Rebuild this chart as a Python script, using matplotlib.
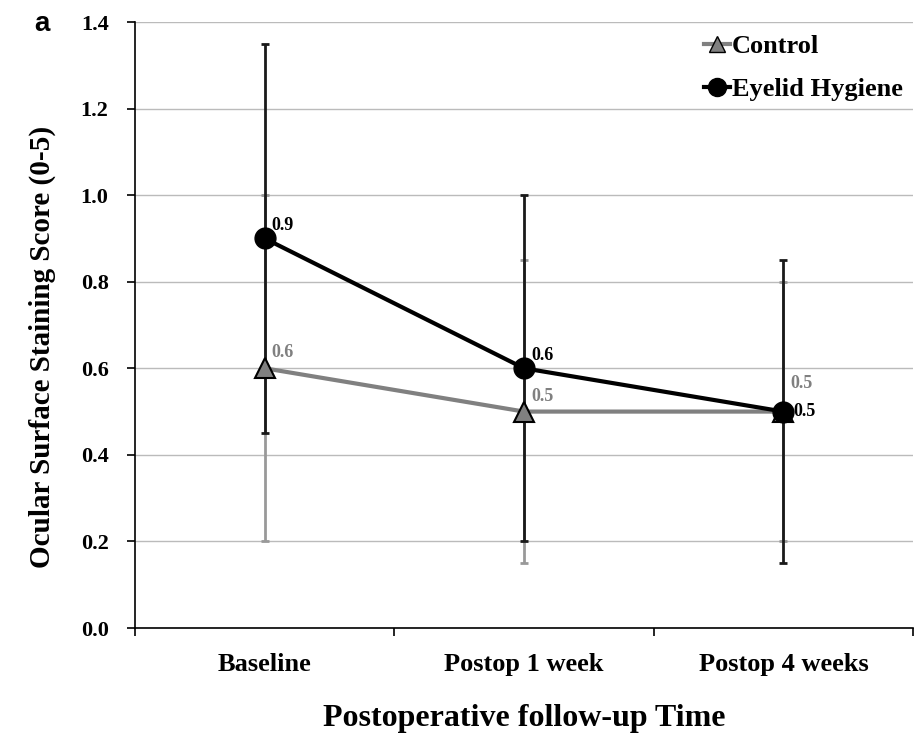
import matplotlib
matplotlib.use("Agg")
import matplotlib.pyplot as plt
from matplotlib.lines import Line2D

categories = ["Baseline", "Postop 1 week", "Postop 4 weeks"]
control_mean = [0.6, 0.5, 0.5]
control_err = [0.4, 0.35, 0.3]
eyelid_mean = [0.9, 0.6, 0.5]
eyelid_err = [0.45, 0.4, 0.35]
yticks = [0.0, 0.2, 0.4, 0.6, 0.8, 1.0, 1.2, 1.4]

serif = ["Liberation Serif", "DejaVu Serif"]

fig = plt.figure(figsize=(9.14, 7.39), dpi=100)
ax = fig.add_axes([0.1477, 0.1502, 0.8513, 0.8200])

x = list(range(len(categories)))

ax.errorbar(x, control_mean, yerr=control_err, fmt="none", ecolor="#999999",
            elinewidth=2, capsize=3, capthick=2, zorder=2)
ax.errorbar(x, eyelid_mean, yerr=eyelid_err, fmt="none", ecolor="#1a1a1a",
            elinewidth=2, capsize=3, capthick=2, zorder=3)
ax.plot(x, control_mean, color="#808080", lw=3, marker="^", markersize=15,
        markerfacecolor="#808080", markeredgecolor="black", markeredgewidth=1.5, zorder=4)
ax.plot(x, eyelid_mean, color="black", lw=3, marker="o", markersize=15,
        markerfacecolor="black", markeredgecolor="black", zorder=5)

# data labels
for i, v in enumerate(control_mean):
    dy = 5 if i < 2 else 14
    ax.annotate(f"{v:.1f}", (i, v), xytext=(5, dy), textcoords="offset points",
                fontsize=13, fontweight="bold", color="#808080", family=serif,
                va="bottom", ha="left")
for i, v in enumerate(eyelid_mean):
    if i < 2:
        ax.annotate(f"{v:.1f}", (i, v), xytext=(5, 3), textcoords="offset points",
                    fontsize=13, fontweight="bold", color="black", family=serif,
                    va="bottom", ha="left")
    else:
        ax.annotate(f"{v:.1f}", (i, v), xytext=(7, 0), textcoords="offset points",
                    fontsize=13, fontweight="bold", color="black", family=serif,
                    va="center", ha="left")

ax.set_xlim(-0.5, 2.5)
ax.set_ylim(0, 1.4)
ax.set_yticks(yticks)
ax.set_yticklabels([f"{t:.1f}" for t in yticks], fontsize=16, fontweight="bold", family=serif)
ax.yaxis.grid(True, color="#bbbbbb", lw=1)
ax.set_axisbelow(True)

ax.set_xticks([-0.5, 0.5, 1.5, 2.5])
ax.set_xticklabels([])
ax.set_xticks(x, minor=True)
ax.set_xticklabels(categories, minor=True, fontsize=19, fontweight="bold", family=serif)
ax.tick_params(axis="x", which="minor", length=0, pad=18)
ax.tick_params(axis="x", which="major", length=6, width=1.2, direction="out")
ax.tick_params(axis="y", length=6, width=1.2, direction="out", pad=13)

for s in ["top", "right"]:
    ax.spines[s].set_visible(False)
ax.spines["left"].set_linewidth(1.2)
ax.spines["bottom"].set_linewidth(1.2)

ax.set_ylabel("Ocular Surface Staining Score (0-5)", fontsize=21, fontweight="bold",
              family=serif)
ax.yaxis.set_label_coords(-0.1015, 0.464)
ax.set_xlabel("Postoperative follow-up Time", fontsize=23, fontweight="bold",
              family=serif, labelpad=20)

handles = [
    Line2D([], [], color="#808080", lw=3, marker="^", markersize=12,
           markerfacecolor="#808080", markeredgecolor="black"),
    Line2D([], [], color="black", lw=3, marker="o", markersize=13,
           markerfacecolor="black"),
]
ax.legend(handles, ["Control", "Eyelid Hygiene"], loc="upper right",
          bbox_to_anchor=(1.01, 1.01), frameon=False, handlelength=1.0,
          handletextpad=0.05, labelspacing=0.75, borderaxespad=0.3,
          prop={"family": serif, "weight": "bold", "size": 19})

fig.text(0.038, 0.968, "a", fontsize=20, fontweight="bold",
         family=["Liberation Sans", "DejaVu Sans"], ha="left", va="center")

fig.savefig("out.png", dpi=100)
